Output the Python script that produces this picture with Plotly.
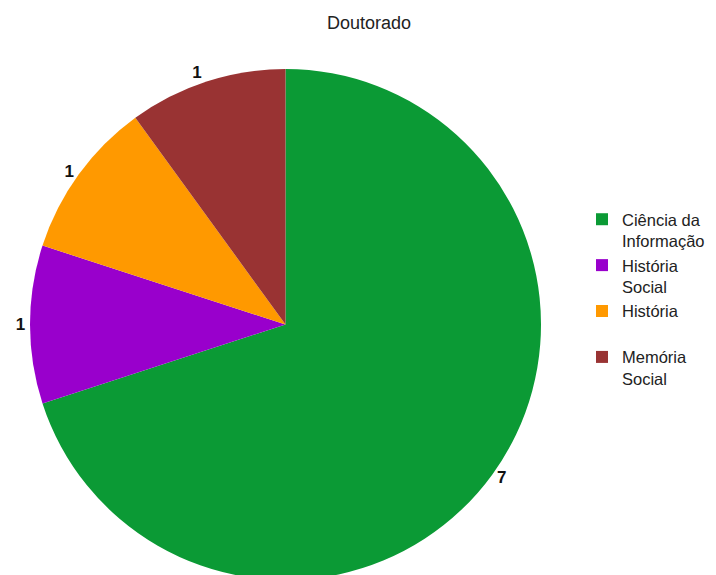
import plotly.graph_objects as go

W, H = 716, 575

categories = ["Ciência da<br>Informação", "História<br>Social", "História<br> ", "Memória<br>Social"]
values = [7, 1, 1, 1]
colors = ["#0b9a35", "#9900cc", "#ff9900", "#993333"]
title = "Doutorado"

x0, x1 = 22, 533
ytop = 58

fig = go.Figure(go.Pie(
    labels=categories,
    values=values,
    sort=False,
    direction="clockwise",
    rotation=0,
    marker=dict(colors=colors, line=dict(width=0)),
    text=[str(v) for v in values],
    textinfo="text",
    textposition="outside",
    outsidetextfont=dict(family="Liberation Sans, Arial", size=17, color="#111111", weight="bold"),
    hoverinfo="label+value",
    domain=dict(x=[x0 / W, x1 / W], y=[0, (H - ytop) / H]),
))

fig.update_layout(
    width=W, height=H,
    margin=dict(l=0, r=0, t=0, b=0, autoexpand=False),
    paper_bgcolor="white",
    font=dict(family="Liberation Sans, Arial", size=16.5, color="#222222"),
    showlegend=True,
    legend=dict(x=574 / W, y=1 - 194 / H, xanchor="left", yanchor="top",
                xref="container", yref="container",
                valign="top", font=dict(size=16.5, color="#222222"),
                bgcolor="rgba(0,0,0,0)"),
    annotations=[dict(text=title, x=361 / W, y=1 - 15 / H, xref="paper", yref="paper",
                      showarrow=False, xanchor="center", yanchor="middle",
                      font=dict(size=18, color="#222222"))],
)

fig.write_html("out.html")
